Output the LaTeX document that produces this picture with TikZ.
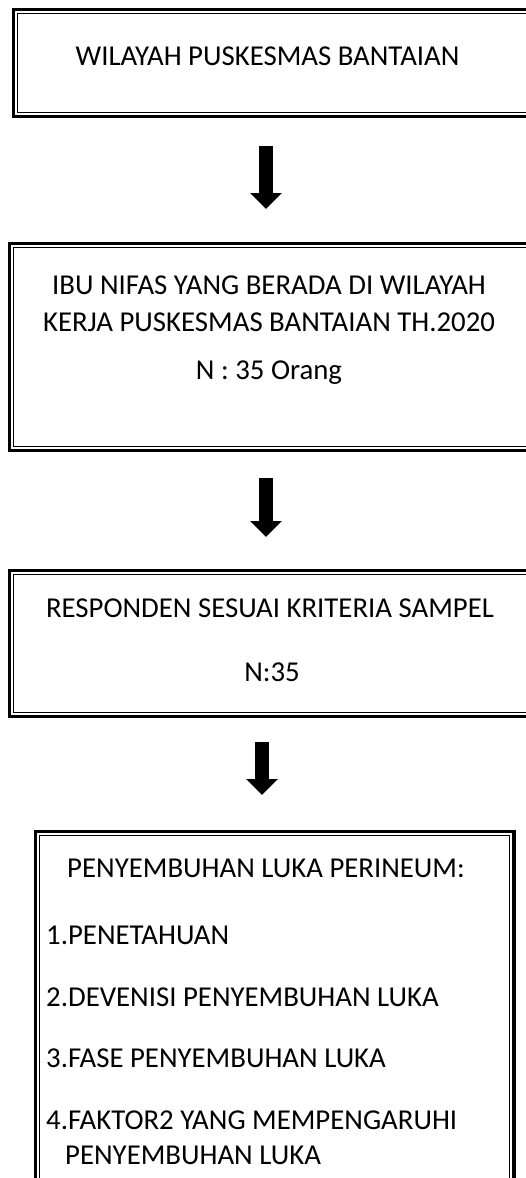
\documentclass[tikz,border=0pt]{standalone}
\usepackage{fontspec}
\setmainfont{Carlito}
\usetikzlibrary{arrows.meta,calc}

\begin{document}
\begin{tikzpicture}[x=1pt,y=-1pt,
    frame/.style={draw=black, line width=3.5pt, inner sep=0pt, outer sep=0pt},
    innerframe/.style={draw=black, line width=0.9pt},
    txt/.style={anchor=base, inner sep=0pt, font=\fontsize{28.8}{34}\selectfont},
    item/.style={txt, anchor=base west},
    bigarrow/.style={line width=14pt, -{Triangle[width=31pt,length=16pt]}}]
  \useasboundingbox (0,0) rectangle (526,1178);
  % boxes
  \node[frame, minimum width=546.5pt, minimum height=107pt] (wilayah) at (286.75,63) {};
  \node[frame, minimum width=550.5pt, minimum height=207pt] (ibu) at (284.75,347) {};
  \node[frame, minimum width=550.5pt, minimum height=146pt] (responden) at (284.75,643.5) {};
  \node[frame, minimum width=478.5pt, minimum height=378.5pt] (luka) at (274.75,1020.75) {};
  \foreach \b in {wilayah,ibu,responden,luka}
    \draw[innerframe] ([shift={(4.3pt,-4.3pt)}]\b.north west) rectangle ([shift={(-4.3pt,4.3pt)}]\b.south east);
  % texts
  \node[txt] (twilayah) at (267.5,65) {WILAYAH PUSKESMAS BANTAIAN};
  \node[txt] (tibu1) at (269,294.5) {IBU NIFAS YANG BERADA DI WILAYAH};
  \node[txt] (tibu2) at (269,331.5) {KERJA PUSKESMAS BANTAIAN TH.2020};
  \node[txt] (tibu3) at (269,379.5) {N : 35 Orang};
  \node[txt] (tresp1) at (270,617.5) {RESPONDEN SESUAI KRITERIA SAMPEL};
  \node[txt] (tresp2) at (272,681.5) {N:35};
  \node[txt] (tluka) at (266,877.5) {PENYEMBUHAN LUKA PERINEUM:};
  \node[item] (i1) at (46,944.5) {1.PENETAHUAN};
  \node[item] (i2) at (46,1006.5) {2.DEVENISI PENYEMBUHAN LUKA};
  \node[item] (i3) at (46,1067.5) {3.FASE PENYEMBUHAN LUKA};
  \node[item] (i4) at (46,1129.5) {4.FAKTOR2 YANG MEMPENGARUHI};
  \node[item] (i4b) at (65,1164.5) {PENYEMBUHAN LUKA};
  % arrows
  \coordinate (ax) at (266,0);
  \coordinate (bx) at (262,0);
  \draw[bigarrow, shorten <=29.5pt, shorten >=34.5pt] (wilayah.south -| ax) -- (ibu.north -| ax);
  \draw[bigarrow, shorten <=27.5pt, shorten >=33.5pt] (ibu.south -| ax) -- (responden.north -| ax);
  \draw[bigarrow, shorten <=25.5pt, shorten >=36.5pt] (responden.south -| bx) -- (luka.north -| bx);
\end{tikzpicture}
\end{document}
